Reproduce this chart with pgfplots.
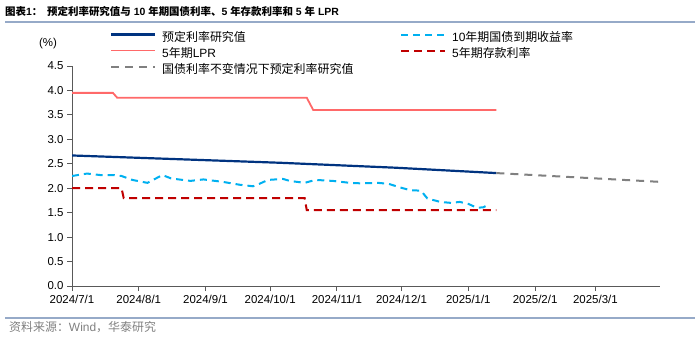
\documentclass[border=0pt]{standalone}
\usepackage{fontspec}
\setmainfont{Liberation Sans}
\newfontfamily\cjk{Noto Sans CJK SC}
\usepackage{pgfplots}
\pgfplotsset{compat=1.18}
\definecolor{navy}{RGB}{0,51,128}
\definecolor{lblue}{RGB}{0,176,240}
\definecolor{lpr}{RGB}{255,105,105}
\definecolor{dep}{RGB}{192,0,0}
\definecolor{gr}{RGB}{128,128,128}
\definecolor{rule}{RGB}{150,170,200}
\definecolor{axc}{RGB}{89,89,89}
\begin{document}
\begin{tikzpicture}[x=1bp,y=1bp]
\path[use as bounding box] (0,0) rectangle (700,342);
\node[anchor=west,inner sep=0pt,font=\bfseries\fontsize{10.5}{12}\selectfont] at (5,330) {{\cjk\bfseries 图表}1{\cjk\bfseries ：\ \ 预定利率研究值与} 10 {\cjk\bfseries 年期国债利率、}5 {\cjk\bfseries 年存款利率和} 5 {\cjk\bfseries 年} LPR};
\draw[rule,line width=1.5bp] (5,320) -- (695,320);
\draw[rule,line width=1.2bp] (5,24) -- (695,24);
\node[anchor=west,inner sep=0pt,text=gr,font=\fontsize{12}{14}\selectfont] at (9,15) {{\cjk 资料来源：}Wind{\cjk ，华泰研究}};
\node[font=\fontsize{11.5}{13}\selectfont] at (48,298) {(\%)};
\begin{axis}[
  at={(72bp,56bp)}, anchor=south west,
  width=588bp, height=220bp, scale only axis,
  xmin=0, xmax=273, ymin=0, ymax=4.5,
  axis x line=bottom, axis y line=left,
  axis line style={-, draw=axc, line width=1bp},
  tick style={draw=axc, line width=1bp},
  tick align=outside, major tick length=5bp,
  xtick={0,31,62,92,123,153,184,215,243},
  xticklabels={2024/7/1,2024/8/1,2024/9/1,2024/10/1,2024/11/1,2024/12/1,2025/1/1,2025/2/1,2025/3/1},
  ytick={0,0.5,1,1.5,2,2.5,3,3.5,4,4.5},
  yticklabel style={/pgf/number format/.cd,fixed,fixed zerofill,precision=1,assume math mode=true},
  ticklabel style={font=\fontsize{11.5}{13}\selectfont, text=black},
  xticklabel style={yshift=-1bp},
  legend columns=2,
  legend style={draw=none, fill=none, at={(0.0646,1.1545)}, anchor=north west,
    inner sep=0pt, outer sep=0pt, row sep=4bp,
    font=\fontsize{12}{13}\selectfont,
    nodes={inner sep=0pt, text height=9bp, text depth=3bp, text width=232bp, align=left},
    /tikz/every odd column/.style={column sep=6bp},
    /tikz/every even column/.style={column sep=6bp}},
  legend image code/.code={\draw[#1] (0bp,3.5bp) -- (44bp,3.5bp);},
]
\addplot[navy, line width=2.2bp] coordinates {(0,2.67) (97,2.52) (150,2.42) (197,2.31)};
\addlegendentry{\cjk 预定利率研究值}
\addplot[lblue, line width=2bp, dash pattern=on 7bp off 5bp] coordinates {
(0,2.25) (7,2.30) (13,2.27) (19,2.27) (23,2.25) (28,2.17) (35,2.11) (42,2.27) (46,2.20)
(55,2.15) (61,2.18) (70,2.13) (78,2.07) (84,2.04) (86,2.07) (91,2.17) (98,2.19) (101,2.15)
(108,2.11) (113,2.17) (121,2.15) (129,2.11) (134,2.10) (142,2.11) (147,2.09) (152,2.02)
(157,1.96) (162,1.95) (165,1.79) (171,1.72) (176,1.70) (180,1.72) (184,1.68) (188,1.60)
(191,1.61) (193,1.66)};
\addlegendentry{10{\cjk 年期国债到期收益率}}
\addplot[lpr, line width=1.8bp] coordinates {(0,3.95) (19,3.95) (21,3.85) (109,3.85) (112,3.60) (197,3.60)};
\addlegendentry{5{\cjk 年期}LPR}
\addplot[dep, line width=2bp, dash pattern=on 8bp off 5bp] coordinates {(0,2.00) (23,2.00) (24,1.80) (108,1.80) (109,1.55) (197,1.55)};
\addlegendentry{5{\cjk 年期存款利率}}
\addplot[gr, line width=2bp, dash pattern=on 8bp off 6bp] coordinates {(197,2.31) (273,2.13)};
\addlegendentry{\cjk 国债利率不变情况下预定利率研究值}
\end{axis}
\end{tikzpicture}
\end{document}
